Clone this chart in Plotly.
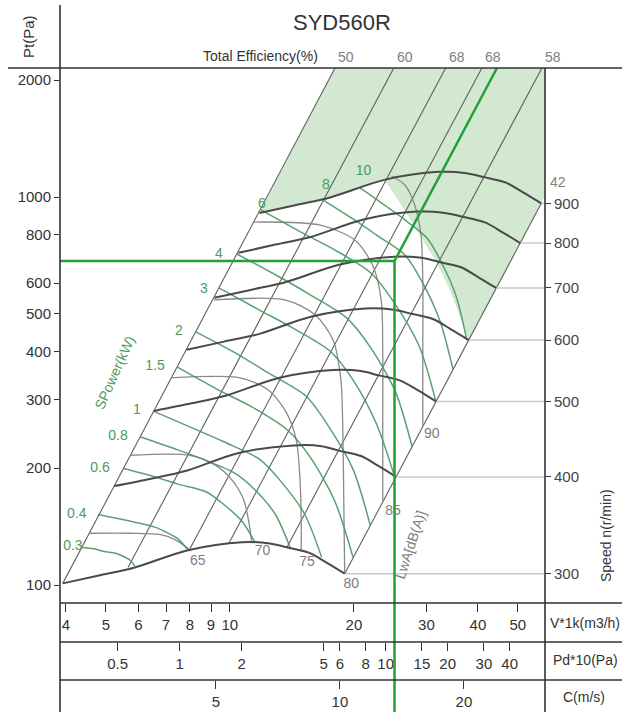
import math
import plotly.graph_objects as go

# ---------------- scales / ticks ----------------
V_MIN, V_MAX = 3.87, 58.2        # volume flow, 1000 m3/h
P_MIN, P_MAX = 89.9, 2150        # total pressure, Pa
C_PER_V = 1 / 1.85               # outlet velocity (m/s) per 1k m3/h
PD_PER_C2 = 0.06                 # Pd*10 per (m/s)^2

y_ticks = [100, 200, 300, 400, 500, 600, 800, 1000, 2000]
v_ticks = [4, 5, 6, 7, 8, 9, 10, 20, 30, 40, 50]
pd_ticks = [0.5, 1, 2, 5, 6, 8, 10, 15, 20, 30, 40]
pd_ticktext = ["0.5", "1", "2", "5", "6", "8", "10", "15", "20", "30", "40"]
c_ticks = [5, 10, 20]

# ---------------- speed curves (r/min) ----------------
speeds = [300, 400, 500, 600, 700, 800, 900]
speed_300_V = [3.93, 4.84, 5.88, 7.91, 10.7, 12.5, 13.8, 15.6, 17.2, 19.0]
speed_300_P = [101, 106, 111, 123, 129, 128, 125, 121, 114, 107]
speed_400_V = [5.24, 6.45, 7.84, 10.5, 14.3, 16.7, 18.4, 20.8, 22.9, 25.3]
speed_400_P = [180, 188, 197, 219, 229, 228, 222, 215, 203, 190]
speed_500_V = [6.55, 8.07, 9.80, 13.2, 17.8, 20.8, 23.0, 26.0, 28.7, 31.7]
speed_500_P = [281, 294, 308, 342, 358, 356, 347, 336, 317, 297]
speed_600_V = [7.86, 9.68, 11.8, 15.8, 21.4, 25.0, 27.6, 31.2, 34.4, 38.0]
speed_600_P = [404, 424, 444, 492, 516, 512, 500, 484, 456, 428]
speed_700_V = [9.17, 11.3, 13.7, 18.5, 25.0, 29.2, 32.2, 36.4, 40.1, 44.3]
speed_700_P = [550, 577, 604, 670, 702, 697, 680, 659, 621, 583]
speed_800_V = [10.5, 12.9, 15.7, 21.1, 28.5, 33.3, 36.8, 41.6, 45.9, 50.7]
speed_800_P = [718, 754, 789, 875, 917, 910, 889, 860, 811, 761]
speed_900_V = [11.8, 14.5, 17.6, 23.7, 32.1, 37.5, 41.4, 46.8, 51.6, 57.0]
speed_900_P = [909, 954, 999, 1107, 1161, 1152, 1125, 1089, 1026, 963]
speed_V = [speed_300_V, speed_400_V, speed_500_V, speed_600_V, speed_700_V, speed_800_V, speed_900_V]
speed_P = [speed_300_P, speed_400_P, speed_500_P, speed_600_P, speed_700_P, speed_800_P, speed_900_P]

# ---------------- total efficiency lines (%) ----------------
eff_labels = ["50", "60", "68", "68", "58", "42"]
eff_V_start = [3.93, 5.66, 8.0, 9.94, 13.75, 19.0]
eff_P_start = [101, 111, 124, 128, 125, 107]
eff_V_end = [18.0, 25.0, 33.4, 40.9, 57.2, 57.0]
eff_P_end = [2150, 2150, 2150, 2150, 2150, 963]

# ---------------- noise curves LwA dB(A) ----------------
noise_labels = ["65", "70", "75", "80", "85", "90"]
noise_65_V = [4.55, 5.72, 6.76, 7.36, 7.78, 8.0]
noise_65_P = [136, 136, 135, 131, 126, 123]
noise_70_V = [5.72, 8.0, 9.2, 10.1, 10.8, 11.1, 11.3]
noise_70_P = [216, 216, 204, 187, 166, 147, 129]
noise_75_V = [7.19, 10.6, 12.4, 13.7, 14.5, 14.8, 14.9, 14.9]
noise_75_P = [342, 342, 318, 279, 236, 187, 147, 122]
noise_80_V = [9.15, 13.6, 16.1, 17.8, 18.6, 18.8, 18.9, 19.0]
noise_80_P = [543, 543, 497, 428, 338, 251, 166, 107]
noise_85_V = [11.4, 16.5, 20.1, 22.2, 23.3, 23.5, 23.5, 23.5]
noise_85_P = [862, 847, 775, 668, 543, 403, 266, 165]
noise_90_V = [24.7, 26.6, 28.1, 29.1, 29.4, 29.4, 29.4]
noise_90_P = [1133, 1074, 954, 798, 611, 403, 257]
noise_V = [noise_65_V, noise_70_V, noise_75_V, noise_80_V, noise_85_V, noise_90_V]
noise_P = [noise_65_P, noise_70_P, noise_75_P, noise_80_P, noise_85_P, noise_90_P]
noise_label_V = [8.36, 12.0, 15.4, 19.7, 24.9, 30.9]
noise_label_P = [115, 122, 114, 100.6, 155, 244]

# ---------------- shaft power curves (kW) ----------------
power_labels = ["0.3", "0.4", "0.6", "0.8", "1", "1.5", "2", "3", "4", "6", "8", "10"]
power_03_V = [4.35, 4.68, 4.95, 5.26, 5.47, 5.72, 5.88]
power_03_P = [125, 124, 122, 121, 119, 116, 112]
power_04_V = [4.78, 5.41, 5.91, 6.58, 6.99, 7.52, 7.91]
power_04_P = [152, 148, 145, 141, 137, 131, 123]
power_06_V = [5.50, 6.58, 7.48, 8.75, 9.62, 10.7, 11.5]
power_06_P = [200, 190, 182, 174, 162, 146, 129]
power_08_V = [6.05, 7.48, 8.70, 10.3, 11.5, 12.9, 14.0]
power_08_P = [241, 223, 210, 194, 176, 152, 125]
power_1_V = [6.50, 8.18, 9.67, 11.8, 13.3, 15.2, 16.7]
power_1_P = [281, 253, 234, 211, 185, 152, 118]
power_15_V = [7.44, 9.40, 11.3, 13.8, 15.7, 18.0, 19.9]
power_15_P = [365, 318, 288, 251, 213, 164, 118]
power_2_V = [8.27, 10.5, 12.4, 15.3, 17.3, 19.9, 21.9]
power_2_P = [449, 392, 352, 307, 258, 199, 143]
power_3_V = [9.40, 11.9, 14.2, 17.5, 19.9, 22.7, 25.2]
power_3_P = [583, 509, 460, 401, 338, 260, 188]
power_4_V = [10.4, 13.2, 15.7, 19.2, 21.9, 25.2, 27.7]
power_4_P = [713, 622, 559, 488, 411, 316, 227]
power_6_V = [11.9, 15.0, 18.0, 22.0, 25.0, 28.8, 31.6]
power_6_P = [926, 808, 730, 637, 536, 413, 298]
power_8_V = [16.7, 19.9, 22.7, 26.6, 29.2, 32.3, 34.8]
power_8_P = [988, 878, 798, 709, 608, 482, 360]
power_10_V = [20.7, 23.9, 26.6, 30.1, 32.5, 35.4, 37.6]
power_10_P = [1055, 948, 873, 784, 684, 556, 428]
power_V = [power_03_V, power_04_V, power_06_V, power_08_V, power_1_V, power_15_V,
           power_2_V, power_3_V, power_4_V, power_6_V, power_8_V, power_10_V]
power_P = [power_03_P, power_04_P, power_06_P, power_08_P, power_1_P, power_15_P,
           power_2_P, power_3_P, power_4_P, power_6_P, power_8_P, power_10_P]
power_label_V = [4.16, 4.25, 4.84, 5.35, 5.95, 6.58, 7.52, 8.65, 9.40, 11.96, 17.1, 21.1]
power_label_P = [126, 152, 200, 242, 281, 365, 449, 579, 713, 959, 1068, 1160]

# ---------------- shaded (not recommended) zone ----------------
zone_V = [11.8, 14.5, 17.6, 23.7, 25.15, 27.0, 29.2, 31.8, 34.2, 36.2, 38.0, 60.0, 60.0, 18.6]
zone_P = [909, 954, 999, 1107, 1012, 899, 784, 676, 576, 491, 428, 1067, 2300, 2300]

# ---------------- duty point ----------------
V_OP, P_OP = 25.1, 684
V_SYS_TOP, P_SYS_TOP = 44.5, 2150

# ---------------- layout geometry ----------------
W, H = 622, 712
X0, X1 = 60 / W, 545 / W
Y0, Y1 = 1 - 603 / H, 1 - 68 / H
PD_POS = 1 - 642 / H
C_POS = 1 - 680 / H
lg = math.log10

AXC = "#333333"
FONT = "Liberation Sans, Arial, sans-serif"
GREEN_TXT = "#4e9a5e"
GRAY_TXT = "#808080"

fig = go.Figure()

fig.add_trace(go.Scatter(x=zone_V, y=zone_P, mode="lines", fill="toself",
                         fillcolor="#d3e8d0", line=dict(width=0), hoverinfo="skip"))

for i in range(len(eff_labels)):
    fig.add_trace(go.Scatter(x=[eff_V_start[i], eff_V_end[i]], y=[eff_P_start[i], eff_P_end[i]],
                             mode="lines", line=dict(color="#606060", width=1.1), hoverinfo="skip"))

for vs, ps in zip(noise_V, noise_P):
    fig.add_trace(go.Scatter(x=vs, y=ps, mode="lines", line=dict(color="#8a8a8a", width=1.3, shape="spline", smoothing=0.8),
                             hoverinfo="skip"))

for vs, ps in zip(power_V, power_P):
    fig.add_trace(go.Scatter(x=vs, y=ps, mode="lines",
                             line=dict(color="rgba(72,150,96,0.9)", width=1.5, shape="spline", smoothing=0.8),
                             hoverinfo="skip"))

end_P = [p[-1] for p in speed_P]
for vs, ps in zip(speed_V, speed_P):
    fig.add_trace(go.Scatter(x=[vs[-1], V_MAX], y=[ps[-1], ps[-1]], mode="lines",
                             line=dict(color="#c9c9c9", width=1.5), hoverinfo="skip"))
for vs, ps in zip(speed_V, speed_P):
    fig.add_trace(go.Scatter(x=vs, y=ps, mode="lines",
                             line=dict(color="#4a4a4a", width=2, shape="spline", smoothing=0.9), hoverinfo="skip"))

# labels inside the chart
fig.add_trace(go.Scatter(x=power_label_V, y=power_label_P, mode="text", text=power_labels,
                         textfont=dict(color=GREEN_TXT, size=14, family=FONT), cliponaxis=False, hoverinfo="skip"))
fig.add_trace(go.Scatter(x=noise_label_V, y=noise_label_P, mode="text", text=noise_labels,
                         textfont=dict(color=GRAY_TXT, size=14, family=FONT), cliponaxis=False, hoverinfo="skip"))

# duty point lines
GREEN = "#22a03a"
fig.add_trace(go.Scatter(x=[V_MIN, V_OP, V_OP], y=[P_OP, P_OP, P_MIN], mode="lines",
                         line=dict(color=GREEN, width=2.5), hoverinfo="skip"))
fig.add_trace(go.Scatter(x=[V_OP, V_SYS_TOP], y=[P_OP, P_SYS_TOP], mode="lines",
                         line=dict(color=GREEN, width=2.5), hoverinfo="skip"))
fig.add_trace(go.Scatter(x=[V_OP, V_OP], y=[0, 1], xaxis="x", yaxis="y3", mode="lines",
                         line=dict(color=GREEN, width=2.5), hoverinfo="skip"))

# invisible carriers so that the secondary scales get drawn
fig.add_trace(go.Scatter(x=pd_ticks, y=[P_MIN] * len(pd_ticks), xaxis="x2", yaxis="y", mode="markers",
                         marker=dict(opacity=0), hoverinfo="skip"))
fig.add_trace(go.Scatter(x=c_ticks, y=[P_MIN] * len(c_ticks), xaxis="x3", yaxis="y", mode="markers",
                         marker=dict(opacity=0), hoverinfo="skip"))
fig.add_trace(go.Scatter(x=[V_MAX] * len(end_P), y=end_P, xaxis="x", yaxis="y2", mode="markers",
                         marker=dict(opacity=0), hoverinfo="skip"))

tickfont = dict(family=FONT, size=15, color=AXC)
common_x = dict(type="log", showgrid=False, zeroline=False, showline=False, ticks="outside",
                ticklen=8, tickwidth=1.3, tickcolor=AXC, tickfont=tickfont, side="bottom")

v_range = [lg(V_MIN), lg(V_MAX)]
c_range = [lg(V_MIN * C_PER_V), lg(V_MAX * C_PER_V)]
pd_range = [lg(PD_PER_C2 * (V_MIN * C_PER_V) ** 2), lg(PD_PER_C2 * (V_MAX * C_PER_V) ** 2)]

fig.update_layout(
    width=W, height=H, margin=dict(l=0, r=0, t=0, b=0),
    paper_bgcolor="white", plot_bgcolor="white", showlegend=False,
    font=dict(family=FONT, size=14, color=AXC),
    xaxis=dict(common_x, domain=[X0, X1], range=v_range, anchor="y",
               tickvals=v_ticks, ticktext=[str(t) for t in v_ticks]),
    xaxis2=dict(common_x, overlaying="x", anchor="free", position=PD_POS, range=pd_range,
                tickvals=pd_ticks, ticktext=pd_ticktext),
    xaxis3=dict(common_x, overlaying="x", anchor="free", position=C_POS, range=c_range,
                tickvals=c_ticks, ticktext=[str(t) for t in c_ticks]),
    yaxis=dict(type="log", domain=[Y0, Y1], range=[lg(P_MIN), lg(P_MAX)], anchor="x",
               showgrid=False, zeroline=False, showline=False, ticks="outside", ticklen=5,
               tickwidth=1.3, tickcolor=AXC, tickvals=y_ticks, ticktext=[str(t) for t in y_ticks],
               tickfont=tickfont),
    yaxis2=dict(type="log", overlaying="y", side="right", anchor="x", range=[lg(P_MIN), lg(P_MAX)],
                showgrid=False, zeroline=False, showline=False, ticks="outside", ticklen=5,
                tickwidth=1.3, tickcolor=AXC, tickvals=end_P, ticktext=[str(s) for s in speeds],
                tickfont=dict(family=FONT, size=15, color="#444")),
    yaxis3=dict(domain=[0, Y0], range=[0, 1], anchor="x", visible=False),
)

LW = 1.6
frame = [
    (8 / W, Y1, 1, Y1),
    (X0, Y0, 1, Y0),
    (X0, PD_POS, 1, PD_POS),
    (X0, C_POS, 1, C_POS),
    (X0, 0, X0, 1 - 5 / H),
    (X1, 0, X1, Y1),
]
for x0, y0, x1, y1 in frame:
    fig.add_shape(type="line", xref="paper", yref="paper", x0=x0, y0=y0, x1=x1, y1=y1,
                  line=dict(color=AXC, width=LW), layer="above")

ann = []
def text(x, y, s, size=14, color=AXC, angle=0, xanchor="center", xref="paper", yref="paper"):
    ann.append(dict(x=x, y=y, text=s, showarrow=False, xref=xref, yref=yref, xanchor=xanchor,
                    yanchor="middle", textangle=angle, font=dict(family=FONT, size=size, color=color)))

text(342 / W, 1 - 22 / H, "SYD560R", size=22)
text(260 / W, 1 - 56 / H, "Total Efficiency(%)", size=14)
for i in range(5):
    ann.append(dict(x=lg(eff_V_end[i]), y=1 - 57 / H, xref="x", yref="paper", text=eff_labels[i],
                    showarrow=False, xanchor="left", xshift=1, yanchor="middle",
                    font=dict(family=FONT, size=14, color=GRAY_TXT)))
text(548 / W, 1 - 182 / H, eff_labels[5], size=14, color=GRAY_TXT, xanchor="left")
text(28 / W, 1 - 37 / H, "Pt(Pa)", size=15, angle=-90)
text(606 / W, 1 - 536 / H, "Speed n(r/min)", angle=-90)
text(585 / W, 1 - 623 / H, "V*1k(m3/h)")
text(585 / W, 1 - 660 / H, "Pd*10(Pa)")
text(584 / W, 1 - 697 / H, "C(m/s)")
text(lg(5.26), lg(354), "SPower(kW)", size=14, color=GREEN_TXT, angle=-66, xref="x", yref="y")
text(lg(27.4), lg(127), "LwA[dB(A)]", size=14, color=GRAY_TXT, angle=-72, xref="x", yref="y")
fig.update_layout(annotations=ann)

fig.write_html("out.html", config={"displayModeBar": False},
               post_script="document.body.style.margin='0';")
